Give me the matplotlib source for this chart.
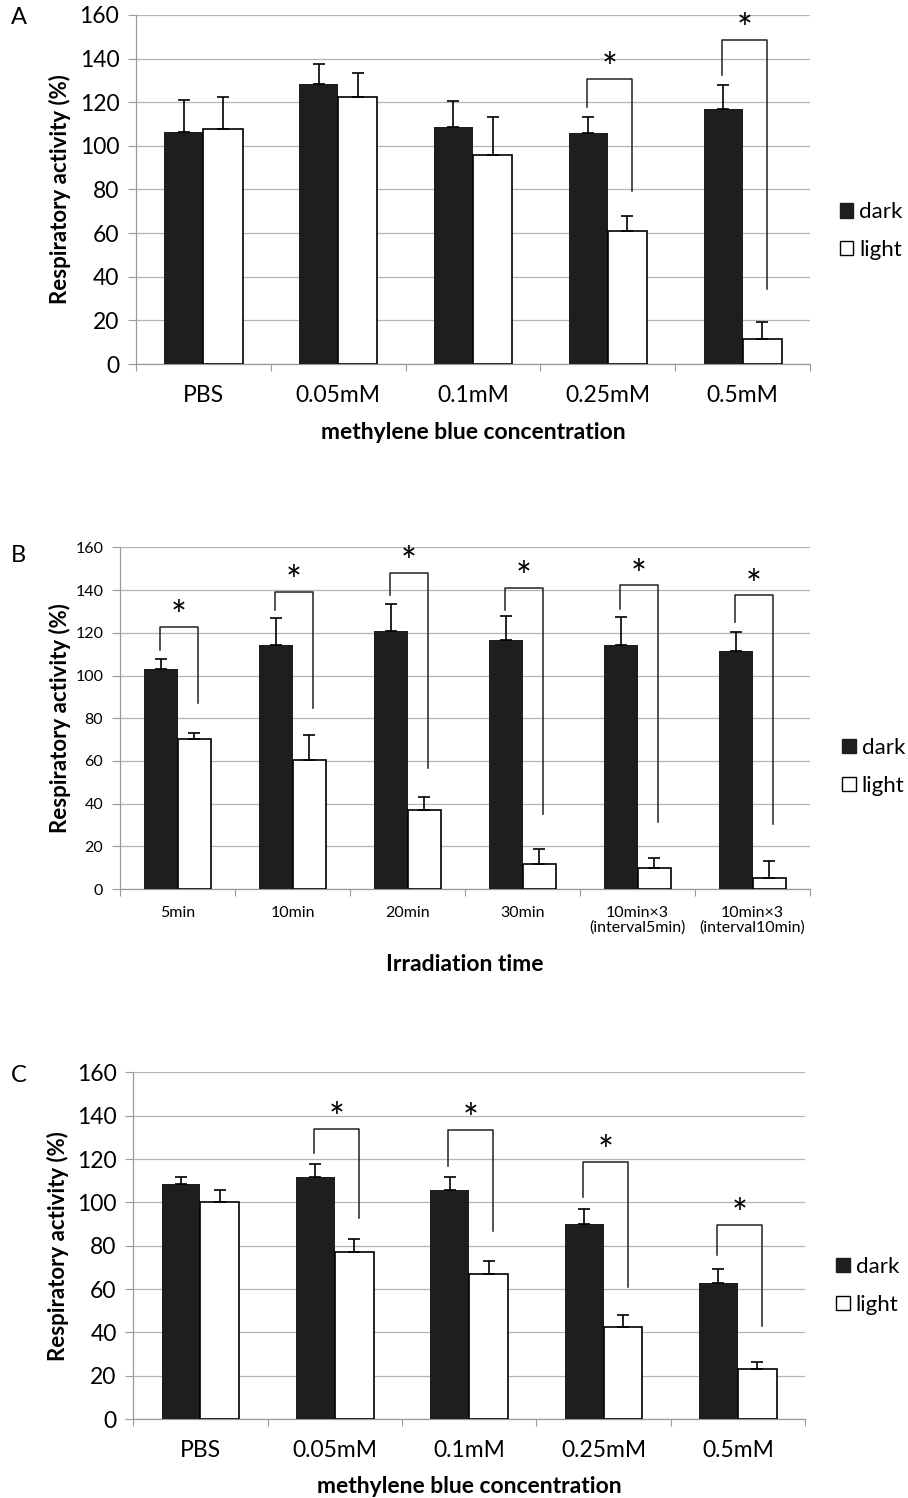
import matplotlib
matplotlib.use("Agg")
import matplotlib.pyplot as plt
import numpy as np
from matplotlib.patches import Patch

plt.rcParams["font.family"] = ["Lato", "DejaVu Sans"]

COLOR_DARK = "#1e1e1e"
COLOR_GRID = "#b4b4b4"
COLOR_SPINE = "#9a9a9a"

# panel A: methylene blue concentration, 10 min irradiation
conc_labels = ["PBS", "0.05mM", "0.1mM", "0.25mM", "0.5mM"]
a_dark = [106.5, 128.4, 108.6, 105.8, 117.0]
a_dark_sd = [14.3, 9.1, 12.0, 7.6, 10.7]
a_light = [107.6, 122.6, 95.9, 61.1, 11.6]
a_light_sd = [14.7, 10.9, 17.2, 6.8, 7.5]
# (group, left leg bottom, bracket top, right leg bottom)
a_brackets = [(3, 117.7, 130.6, 79.4), (4, 132.6, 148.5, 34.3)]

# panel B: irradiation time
time_labels = ["5min", "10min", "20min", "30min",
               "10min×3\n(interval5min)", "10min×3\n(interval10min)"]
b_dark = [103.1, 114.1, 120.9, 116.7, 114.2, 111.3]
b_dark_sd = [4.4, 12.6, 12.7, 11.0, 13.0, 9.0]
b_light = [70.5, 60.4, 37.0, 11.9, 10.0, 5.3]
b_light_sd = [2.7, 11.6, 6.0, 7.0, 4.4, 7.8]
b_brackets = [(0, 111.9, 122.8, 86.9), (1, 130.6, 139.0, 84.6),
              (2, 137.6, 148.1, 56.5), (3, 130.6, 141.0, 35.1),
              (4, 131.1, 142.2, 31.2), (5, 125.2, 137.5, 30.4)]

# panel C: methylene blue concentration, second condition
c_dark = [108.4, 111.8, 105.7, 90.1, 62.6]
c_dark_sd = [3.3, 5.7, 6.0, 6.8, 6.8]
c_light = [100.0, 77.1, 67.1, 42.3, 23.1]
c_light_sd = [5.8, 5.8, 6.0, 5.8, 3.2]
c_brackets = [(1, 122.6, 133.8, 92.9), (2, 116.8, 133.4, 86.9),
              (3, 102.3, 118.8, 60.8), (4, 75.7, 89.5, 42.9)]

W = 0.29


def draw_panel(fig, rect, letter, letter_xy, labels, dark, dark_sd, light, light_sd,
               brackets, xlabel, tick_fs, xlabel_y, ylabel_x, legend_xy, tick_pad):
    ax = fig.add_axes(rect)
    x = np.arange(len(labels))
    ax.bar(x - W / 2, dark, W, color=COLOR_DARK, zorder=3)
    ax.bar(x + W / 2, light, W, color="white", edgecolor="black", lw=1.2, zorder=3)
    ax.errorbar(x - W / 2, dark, yerr=[np.zeros(len(x)), dark_sd], fmt="none",
                ecolor="black", elinewidth=1.2, capsize=4, capthick=1.2, zorder=4)
    ax.errorbar(x + W / 2, light, yerr=[np.zeros(len(x)), light_sd], fmt="none",
                ecolor="black", elinewidth=1.2, capsize=4, capthick=1.2, zorder=4)

    for g, lb, top, rb in brackets:
        xl = g - W / 2 - 0.01
        xr = g + W / 2 + 0.035
        ax.plot([xl, xl, xr, xr], [lb, top, top, rb], color="#222222", lw=1.1, zorder=5)
        ax.text((xl + xr) / 2, top - 1.0, "*", ha="center", va="baseline",
                fontsize=27, zorder=5)

    ax.set_xlim(-0.5, len(labels) - 0.5)
    ax.set_ylim(0, 160)
    ax.set_yticks(np.arange(0, 161, 20))
    ax.yaxis.grid(True, color=COLOR_GRID, lw=0.9)
    ax.set_axisbelow(True)
    for s in ["top", "right"]:
        ax.spines[s].set_visible(False)
    for s in ["left", "bottom"]:
        ax.spines[s].set_color(COLOR_SPINE)
        ax.spines[s].set_linewidth(0.9)
    ax.set_xticks(np.arange(-0.5, len(labels), 1.0))
    ax.set_xticklabels([])
    ax.set_xticks(x, minor=True)
    ax.set_xticklabels(labels, minor=True, fontsize=tick_fs, linespacing=1.1)
    ax.tick_params(axis="x", which="major", length=5, color=COLOR_SPINE, direction="out")
    ax.tick_params(axis="x", which="minor", length=0, pad=tick_pad)
    ax.tick_params(axis="y", length=6, color=COLOR_SPINE, labelsize=tick_fs, pad=6)

    ax.set_ylabel("Respiratory activity (%)", fontsize=16, fontweight="bold")
    ax.yaxis.label.set_va("center")
    ax.yaxis.set_label_coords(ylabel_x, 0.5)
    ax.text(0.5, xlabel_y, xlabel, transform=ax.transAxes, ha="center", va="center",
            fontsize=16.5, fontweight="bold")

    handles = [Patch(facecolor=COLOR_DARK, edgecolor=COLOR_DARK),
               Patch(facecolor="white", edgecolor="black")]
    ax.legend(handles, ["dark", "light"], loc="center left", bbox_to_anchor=legend_xy,
              frameon=False, fontsize=16, handlelength=0.62, handleheight=0.62,
              handletextpad=0.27, labelspacing=0.8, borderaxespad=0, borderpad=0)
    fig.text(letter_xy[0], letter_xy[1], letter, fontsize=17, ha="left", va="center")
    return ax


fig = plt.figure(figsize=(9.08, 14.98), dpi=100)

draw_panel(fig, [0.1498, 0.757, 0.7423, 0.233], "A", (0.012, 1 - 18 / 1498),
           conc_labels, a_dark, a_dark_sd, a_light, a_light_sd, a_brackets,
           "methylene blue concentration", 16.5, -0.195, -0.113, (1.044, 0.381), 15)
draw_panel(fig, [0.1322, 0.4065, 0.7599, 0.2281], "B", (0.012, 1 - 555 / 1498),
           time_labels, b_dark, b_dark_sd, b_light, b_light_sd, b_brackets,
           "Irradiation time", 11.5, -0.222, -0.087, (1.046, 0.358), 12)
draw_panel(fig, [0.1468, 0.0527, 0.7398, 0.2314], "C", (0.012, 1 - 1075 / 1498),
           conc_labels, c_dark, c_dark_sd, c_light, c_light_sd, c_brackets,
           "methylene blue concentration", 16.5, -0.195, -0.112, (1.046, 0.384), 15)

fig.savefig("out.png", dpi=100, facecolor="white")
